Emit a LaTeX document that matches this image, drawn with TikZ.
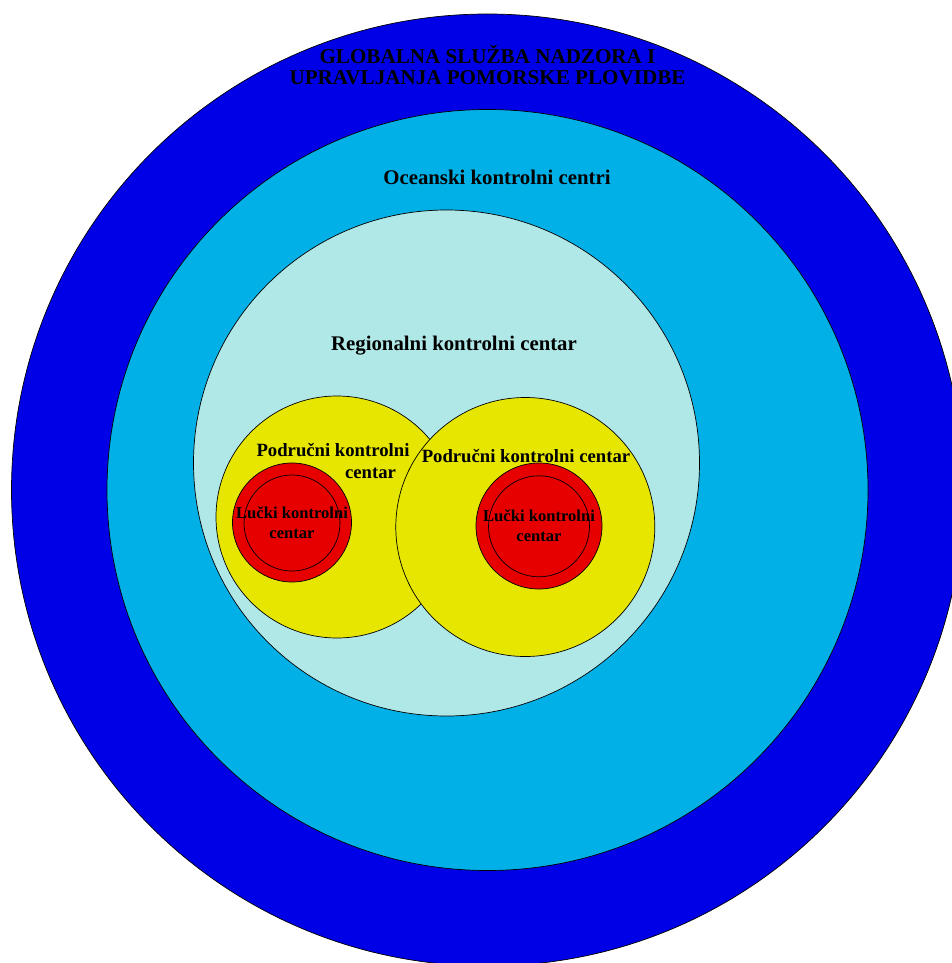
\documentclass[tikz,border=0pt]{standalone}
\usepackage{fontspec}
\setmainfont{Liberation Serif}
\definecolor{cblue}{RGB}{0,0,230}
\definecolor{ccyan}{RGB}{0,176,230}
\definecolor{clight}{RGB}{176,232,232}
\definecolor{cyel}{RGB}{230,230,0}
\definecolor{cred}{RGB}{230,0,0}
\tikzset{
  ring/.style={circle, draw=black, line width=0.7pt, inner sep=0pt},
  lbl/.style={inner sep=0pt, font=\bfseries, text=black, align=center}
}
\begin{document}
\begin{tikzpicture}[x=1pt,y=-1pt]
\useasboundingbox (0,0) rectangle (952,963);
\clip (0,0) rectangle (952,963);
\node[ring, fill=cblue, minimum size=952pt] (glob) at (487.5,490) {};
\node[ring, fill=ccyan, minimum size=761pt] (ocean) at (487.5,490) {};
\node[ring, fill=clight, minimum size=506pt] (reg) at (446.5,463) {};
\node[ring, fill=cyel, minimum size=242pt] (podL) at (337,517) {};
\node[ring, fill=cyel, minimum size=259pt] (podR) at (525.3,527) {};
\node[ring, fill=cred, minimum size=119pt] (lukL) at (292,522.5) {};
\node[ring, minimum size=96pt] (lukLi) at (292,523) {};
\node[ring, fill=cred, minimum size=126pt] (lukR) at (539,526) {};
\node[ring, minimum size=101pt] (lukRi) at (539,526.3) {};
\node[lbl, font=\bfseries\fontsize{21.1}{24}\selectfont] (t1) at (487.5,54) {GLOBALNA SLUŽBA NADZORA I};
\node[lbl, font=\bfseries\fontsize{21.1}{24}\selectfont] (t2) at (487.5,78) {UPRAVLJANJA POMORSKE PLOVIDBE};
\node[lbl, font=\bfseries\fontsize{20.8}{24}\selectfont] (toc) at (497,177) {Oceanski kontrolni centri};
\node[lbl, font=\bfseries\fontsize{20.8}{24}\selectfont] (treg) at (454,346) {Regionalni kontrolni centar};
\node[lbl, font=\bfseries\fontsize{18.7}{22}\selectfont] (tpl1) at (333,450) {Područni kontrolni};
\node[lbl, font=\bfseries\fontsize{18.7}{22}\selectfont] (tpl2) at (370.5,473) {centar};
\node[lbl, font=\bfseries\fontsize{18.7}{22}\selectfont] (tpr) at (526,456) {Područni kontrolni centar};
\node[lbl, font=\bfseries\fontsize{16.6}{20}\selectfont] (tll) at (292,523) {Lučki kontrolni\\centar};
\node[lbl, font=\bfseries\fontsize{16.6}{20}\selectfont] (tlr) at (539,526) {Lučki kontrolni\\centar};
\end{tikzpicture}
\end{document}
